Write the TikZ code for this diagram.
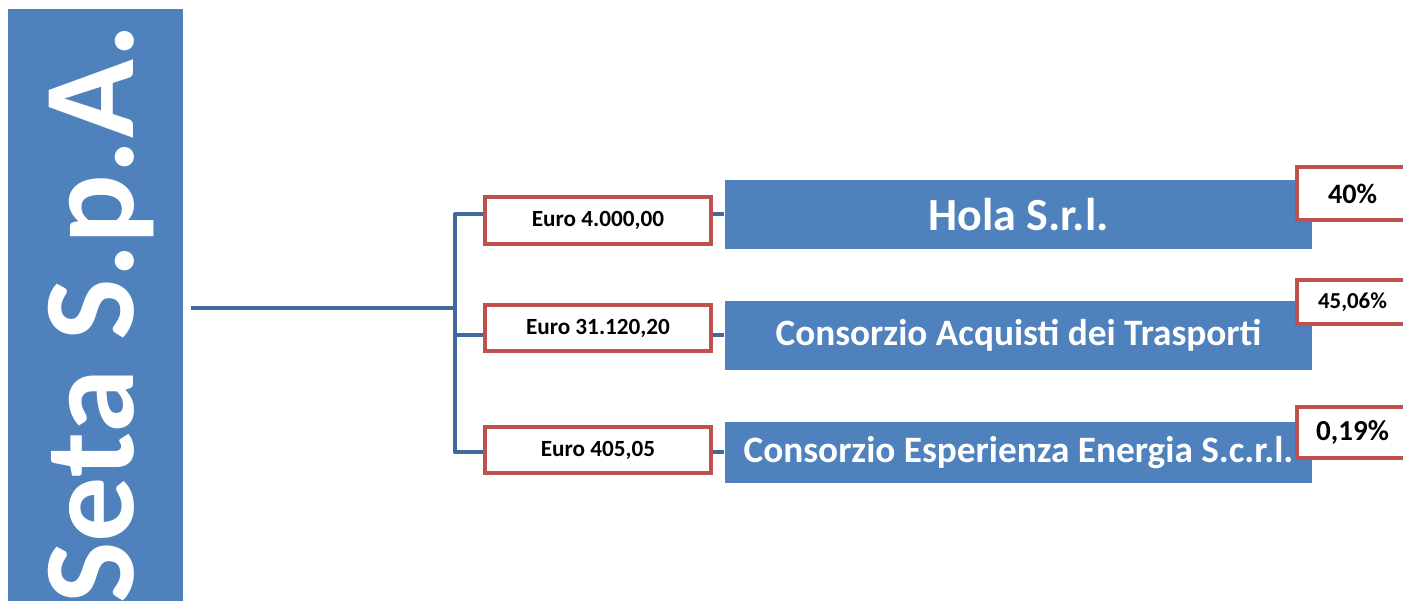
\documentclass[tikz,border=0pt]{standalone}
\usepackage{fontspec}
\setmainfont{Carlito}
\usepackage{xcolor}
\usepackage{graphicx}
\usepackage{tikz}
\pgfdeclarelayer{nodelayer}
\pgfdeclarelayer{edgelayer}
\pgfsetlayers{edgelayer,nodelayer,main}
\definecolor{setablue}{HTML}{4F81BD}
\definecolor{linkblue}{HTML}{41699C}
\definecolor{boxred}{HTML}{C0504D}
\tikzset{
    none/.style = {inner sep=0pt},
    root/.style = {fill=setablue, text=white, inner sep=0pt, minimum width=1.75cm, minimum height=6.1cm, font=\fontsize{37}{37}\selectfont\bfseries},
    company/.style = {fill=setablue, text=white, inner sep=0pt, minimum width=5.87cm, font=\fontsize{10.6}{12}\selectfont\bfseries},
    amount/.style = {draw=boxred, line width=1.14pt, fill=white, inner sep=0pt, minimum width=2.26cm, font=\fontsize{6.6}{7}\selectfont\bfseries},
    share/.style = {draw=boxred, line width=1.14pt, fill=white, inner sep=0pt, minimum width=1.11cm, font=\fontsize{8}{9}\selectfont\bfseries},
    link/.style = {draw=linkblue, line width=1.14pt, line join=round}
}

\begin{document}
\begin{tikzpicture}
    \useasboundingbox (0, 0) rectangle (14.03, 6.01);
    \begin{pgfonlayer}{nodelayer}
        \node [style=root] (0) at (0.955, 2.87) {\rotatebox{90}{\raisebox{-0.06cm}[\height][\depth]{Seta S.p.A.}}};
        \coordinate (1) at (4.55, 2.93);
        \node [style=company, minimum height=0.69cm, font=\fontsize{13.1}{15}\selectfont\bfseries] (2) at (10.185, 3.865) {Hola S.r.l.};
        \node [style=company, minimum height=0.69cm] (3) at (10.185, 2.655) {Consorzio Acquisti dei Trasporti};
        \node [style=company, minimum height=0.61cm] (4) at (10.185, 1.485) {Consorzio Esperienza Energia S.c.r.l.};
        \node [style=amount, minimum height=0.47cm] (5) at (5.98, 3.805) {Euro 4.000,00};
        \node [style=amount, minimum height=0.46cm] (6) at (5.98, 2.73) {Euro 31.120,20};
        \node [style=amount, minimum height=0.46cm] (7) at (5.98, 1.51) {Euro 405,05};
        \node [style=share, minimum height=0.53cm] (8) at (13.525, 4.075) {40\%};
        \node [style=share, minimum height=0.44cm, font=\fontsize{6.5}{7}\selectfont\bfseries] (9) at (13.525, 2.99) {45,06\%};
        \node [style=share, minimum height=0.51cm, font=\fontsize{8.25}{9}\selectfont\bfseries] (10) at (13.525, 1.685) {0,19\%};
    \end{pgfonlayer}
    \begin{pgfonlayer}{edgelayer}
        \draw [style=link] ([xshift=0.07cm]0.east |- 1) to (1);
        \draw [style=link] (1) |- (2.west);
        \draw [style=link] (1) |- (3.west);
        \draw [style=link] (1) |- (4.west);
    \end{pgfonlayer}
\end{tikzpicture}
\end{document}
